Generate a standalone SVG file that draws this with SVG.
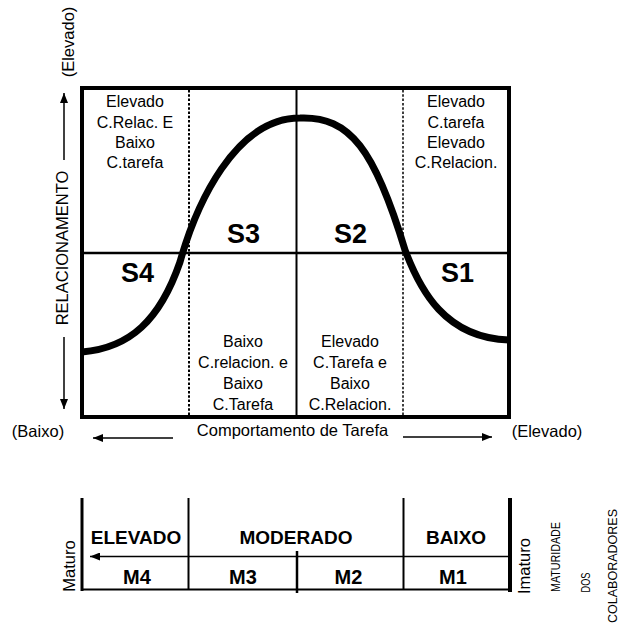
<svg xmlns="http://www.w3.org/2000/svg" width="619" height="625" viewBox="0 0 619 625">
<style>
text{font-family:"Liberation Sans",Arial,Helvetica,sans-serif;fill:#000}
.c{font-size:16px;text-anchor:middle}
.s{font-size:27px;font-weight:bold;text-anchor:middle}
.l{font-size:16.5px}
.b{font-size:19px;font-weight:bold;text-anchor:middle}
.m{font-size:20px;font-weight:bold;text-anchor:middle}
.ln{stroke:#000;fill:none}
</style>
<defs>
<marker id="ah" viewBox="0 0 10 8" refX="10" refY="4" markerWidth="11" markerHeight="8" markerUnits="userSpaceOnUse" orient="auto">
<path d="M0,0 L10,4 L0,8 Z" fill="#000"/>
</marker>
</defs>
<g id="grid">
<line class="ln" x1="189" y1="90" x2="189" y2="415" stroke-width="2" stroke-dasharray="2.5,1.8"/>
<line class="ln" x1="403" y1="90" x2="403" y2="415" stroke-width="1.5" stroke-dasharray="2.5,1.8"/>
<line class="ln" x1="296.5" y1="88" x2="296.5" y2="417" stroke-width="2"/>
<line class="ln" x1="82" y1="253" x2="509" y2="253" stroke-width="2.5"/>
<rect x="82" y="88" width="427" height="329" class="ln" stroke-width="4"/>
</g>
<g id="curve">
<path class="ln" stroke-width="7" d="M82,352 C130,348 160,320 180,262 C196,205 235,118 300,118 C350,116 375,150 405,250 C420,290 445,338 509,340"/>
</g>
<g id="cell-s4">
<text class="c" x="135" y="107">Elevado</text>
<text class="c" x="135" y="128">C.Relac. E</text>
<text class="c" x="135" y="148">Baixo</text>
<text class="c" x="135" y="168">C.tarefa</text>
</g>
<g id="cell-s1">
<text class="c" x="456" y="107">Elevado</text>
<text class="c" x="456" y="128">C.tarefa</text>
<text class="c" x="456" y="148">Elevado</text>
<text class="c" x="456" y="168">C.Relacion.</text>
</g>
<g id="cell-s3">
<text class="c" x="243" y="347">Baixo</text>
<text class="c" x="243" y="368">C.relacion. e</text>
<text class="c" x="243" y="389">Baixo</text>
<text class="c" x="243" y="410">C.Tarefa</text>
</g>
<g id="cell-s2">
<text class="c" x="350" y="347">Elevado</text>
<text class="c" x="350" y="368">C.Tarefa e</text>
<text class="c" x="350" y="389">Baixo</text>
<text class="c" x="350" y="410">C.Relacion.</text>
</g>
<g id="labels-s">
<text class="s" x="243.5" y="243">S3</text>
<text class="s" x="350.5" y="243">S2</text>
<text class="s" x="137.5" y="282">S4</text>
<text class="s" x="457.5" y="282">S1</text>
</g>
<g id="axis-y">
<text class="l" transform="translate(74,42) rotate(-90)" text-anchor="middle" font-size="17.5">(Elevado)</text>
<text class="l" transform="translate(68,248) rotate(-90)" text-anchor="middle" font-size="17.5">RELACIONAMENTO</text>
</g>
<g id="axis-x">
<text class="l" x="38" y="437" text-anchor="middle">(Baixo)</text>
<text class="l" x="292.5" y="436" text-anchor="middle">Comportamento de Tarefa</text>
<text class="l" x="547" y="437" text-anchor="middle">(Elevado)</text>
</g>
<g id="connectors">
<line class="ln" x1="64" y1="160" x2="64" y2="93" stroke-width="1.5" marker-end="url(#ah)"/>
<line class="ln" x1="64" y1="337" x2="64" y2="409" stroke-width="1.5" marker-end="url(#ah)"/>
<line class="ln" x1="173" y1="438" x2="93" y2="438" stroke-width="1.5" marker-end="url(#ah)"/>
<line class="ln" x1="403" y1="437" x2="492" y2="437" stroke-width="1.5" marker-end="url(#ah)"/>
<line class="ln" x1="510" y1="556.5" x2="90" y2="556.5" stroke-width="1.5" marker-end="url(#ah)"/>
</g>
<g id="maturity">
<line class="ln" x1="82" y1="498" x2="82" y2="591" stroke-width="3"/>
<line class="ln" x1="510" y1="498" x2="510" y2="592" stroke-width="4"/>
<line class="ln" x1="188.5" y1="498" x2="188.5" y2="590" stroke-width="2"/>
<line class="ln" x1="403.5" y1="498" x2="403.5" y2="590" stroke-width="2"/>
<line class="ln" x1="297" y1="551" x2="297" y2="593" stroke-width="2.5"/>
<line class="ln" x1="82" y1="589.5" x2="510" y2="589.5" stroke-width="2"/>
<text class="b" x="136" y="544">ELEVADO</text>
<text class="b" x="296" y="544">MODERADO</text>
<text class="b" x="456" y="544">BAIXO</text>
<text class="m" x="137" y="584">M4</text>
<text class="m" x="243" y="584">M3</text>
<text class="m" x="348.5" y="584">M2</text>
<text class="m" x="453" y="584">M1</text>
<text class="l" transform="translate(75,566) rotate(-90)" text-anchor="middle">Maturo</text>
<text class="l" transform="translate(530,566) rotate(-90)" text-anchor="middle">Imaturo</text>
<text transform="translate(560,557) rotate(-90)" text-anchor="middle" font-size="12" textLength="70" lengthAdjust="spacingAndGlyphs">MATURIDADE</text>
<text transform="translate(590,582.5) rotate(-90)" text-anchor="middle" font-size="12" textLength="20" lengthAdjust="spacingAndGlyphs">DOS</text>
<text transform="translate(617,566) rotate(-90)" text-anchor="middle" font-size="12.5" textLength="114" lengthAdjust="spacingAndGlyphs">COLABORADORES</text>
</g>
</svg>
